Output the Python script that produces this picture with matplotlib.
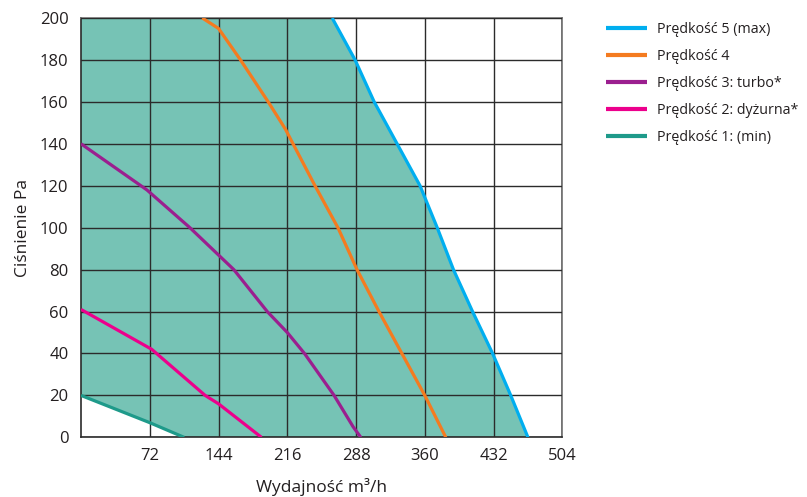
import matplotlib
matplotlib.use("Agg")
import matplotlib.pyplot as plt
import numpy as np

plt.rcParams['font.family'] = ['Open Sans', 'DejaVu Sans']

# Data (flow m3/h, pressure Pa)
v5_x = [263, 275, 287, 307, 331, 355, 373, 390, 410, 431, 450, 468]
v5_y = [200, 190, 180, 160, 140, 120, 100, 80, 60, 40, 20, 0]
v4_x = [127, 144, 167, 196, 214, 222, 245, 269, 289, 312, 336, 360, 382]
v4_y = [200, 195, 180, 160, 147, 140, 120, 100, 80, 60, 40, 20, 0]
v3_x = [0, 69, 114, 160, 195, 216, 234, 265, 285, 293]
v3_y = [140, 118, 100, 80, 60, 50, 40, 20, 5, 0]
v2_x = [0, 74, 130, 144, 189]
v2_y = [61, 42, 20, 16, 0]
v1_x = [0, 72, 108]
v1_y = [20, 7, 0]

labels = ["Prędkość 5 (max)", "Prędkość 4", "Prędkość 3: turbo*",
          "Prędkość 2: dyżurna*", "Prędkość 1: (min)"]
colors = ["#00AEEF", "#F47B20", "#9B1F8F", "#EC008C", "#1E9A8A"]

xticks = [72, 144, 216, 288, 360, 432, 504]
yticks = list(range(0, 201, 20))

fig = plt.figure(figsize=(8.07, 4.97), dpi=100)
ax = fig.add_axes([0.1004, 0.120, 0.5964, 0.8438])

# fill area between min and max curves
poly_x = list(v1_x) + list(v5_x[::-1]) + [0]
poly_y = list(v1_y) + list(v5_y[::-1]) + [200]
ax.fill(poly_x, poly_y, color="#76C3B5", zorder=1, lw=0)

series = [(v5_x, v5_y), (v4_x, v4_y), (v3_x, v3_y), (v2_x, v2_y), (v1_x, v1_y)]
for (xs, ys), c, lab in zip(series, colors, labels):
    ax.plot(xs, ys, color=c, lw=2.3, label=lab, zorder=3,
            solid_capstyle='butt', solid_joinstyle='round')

ax.set_xlim(0, 504)
ax.set_ylim(0, 200)
ax.set_xticks(xticks)
ax.set_yticks(yticks)
ax.tick_params(length=0, labelsize=12, colors="#231F20")
ax.tick_params(axis='x', pad=8)
ax.tick_params(axis='y', pad=9)
ax.grid(True, color="#2B2B2B", lw=1.0, zorder=2)
ax.set_axisbelow(False)
for s in ['left', 'bottom']:
    ax.spines[s].set_color("#2B2B2B")
    ax.spines[s].set_linewidth(1.2)
for s in ['top', 'right']:
    ax.spines[s].set_color("#707070")
    ax.spines[s].set_linewidth(1.2)
for gl in ax.get_xgridlines() + ax.get_ygridlines():
    gl.set_zorder(2)

ax.set_xlabel("Wydajność m³/h", fontsize=12.5, color="#231F20", labelpad=10)
ax.set_ylabel("Ciśnienie Pa", fontsize=12.5, color="#231F20", labelpad=6)

leg = fig.legend(loc='upper left', bbox_to_anchor=(0.744, 0.968), frameon=False,
                 fontsize=10.3, handlelength=2.85, handletextpad=0.7,
                 labelspacing=0.84, borderaxespad=0)
for t in leg.get_texts():
    t.set_color("#231F20")
for l in leg.get_lines():
    l.set_linewidth(3)

fig.savefig("out.png", dpi=100)
